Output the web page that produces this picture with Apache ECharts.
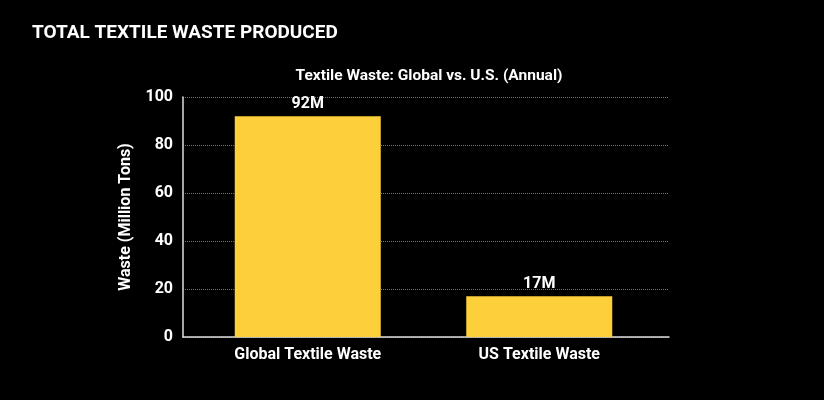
<!DOCTYPE html>
<html lang="en">
<head>
    <meta charset="UTF-8">
    <title>Total Textile Waste</title>
    <script src="https://cdn.jsdelivr.net/npm/echarts@6/dist/echarts.min.js"></script>
</head>
<body style="margin:0;background:#000;">
    <div id="main" style="width:824px;height:400px;"></div>
</body>
<script type="text/javascript">
    // data
    var categories = ['Global Textile Waste', 'US Textile Waste'];
    var wasteValues = [92, 17];
    var barLabels = ['92M', '17M'];

    var font = 'Roboto, sans-serif';
    var myChart = echarts.init(document.getElementById('main'));

    // grid 0 draws the frame (axis lines, ticks, grid lines),
    // grid 1 holds the bars, a bit inset like the original
    var option = {
        backgroundColor: '#000',
        title: [{
            text: 'TOTAL TEXTILE WASTE PRODUCED',
            left: 27,
            top: 19,
            textStyle: { color: '#fff', fontSize: 19, fontWeight: 'bold', fontFamily: font }
        }, {
            text: 'Textile Waste: Global vs. U.S. (Annual)',
            left: 424,
            textAlign: 'center',
            top: 63,
            textStyle: { color: '#fff', fontSize: 15.5, fontWeight: 'bold', fontFamily: font }
        }],
        grid: [
            { left: 183, right: 155, top: 97, bottom: 63 },
            { left: 192, right: 169, top: 97, bottom: 63 }
        ],
        xAxis: [{
            type: 'category',
            gridIndex: 0,
            data: categories,
            axisLine: { lineStyle: { color: '#ddd', width: 1.5 } },
            axisTick: { show: false },
            axisLabel: { show: false }
        }, {
            type: 'category',
            gridIndex: 1,
            data: categories,
            axisLine: { show: false },
            axisTick: { show: false },
            axisLabel: { color: '#fff', fontSize: 16, fontWeight: 'bold', fontFamily: font, margin: 10 }
        }],
        yAxis: [{
            type: 'value',
            gridIndex: 0,
            min: 0,
            max: 100,
            interval: 20,
            name: 'Waste (Million Tons)',
            nameLocation: 'middle',
            nameGap: 49,
            nameTextStyle: { color: '#fff', fontSize: 16, fontWeight: 'bold', fontFamily: font },
            axisLine: { show: true, lineStyle: { color: '#ddd', width: 1.5 } },
            axisTick: { show: false },
            axisLabel: { color: '#fff', fontSize: 16, fontWeight: 'bold', fontFamily: font, margin: 10 },
            splitLine: { lineStyle: { color: '#777', type: 'dotted', width: 1 } }
        }, {
            type: 'value',
            gridIndex: 1,
            min: 0,
            max: 100,
            show: false
        }],
        series: [{
            type: 'bar',
            xAxisIndex: 1,
            yAxisIndex: 1,
            data: wasteValues,
            barWidth: 146,
            itemStyle: { color: '#FDD03B' },
            label: {
                show: true,
                position: 'top',
                distance: 4,
                color: '#fff',
                fontSize: 16,
                fontWeight: 'bold',
                fontFamily: font,
                formatter: function (p) { return barLabels[p.dataIndex]; }
            }
        }]
    };

    myChart.setOption(option);
</script>
</html>
